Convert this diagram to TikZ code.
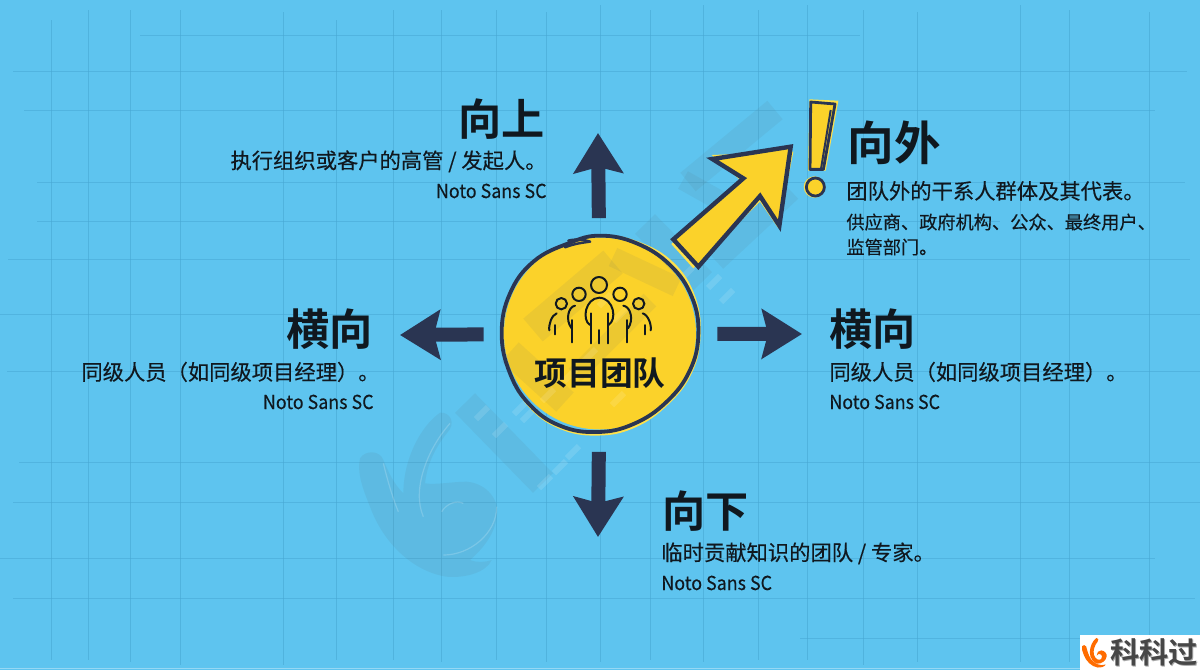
\documentclass[tikz,border=0pt]{standalone}
\usepackage{fontspec}
\usetikzlibrary{arrows.meta}
\setmainfont{Noto Sans CJK SC}[BoldFont={Noto Sans CJK SC Bold}]
\newfontfamily\bodyface{Noto Sans CJK SC}[FakeBold=0.25]
\newfontfamily\latinface{Noto Sans CJK SC}[FakeStretch=0.93,FakeBold=0.1]
\definecolor{bgblue}{HTML}{5EC4EF}
\definecolor{gridblue}{HTML}{48A8D4}
\definecolor{navy}{HTML}{2A3552}
\definecolor{ink}{HTML}{10181F}
\definecolor{sun}{HTML}{FBD22A}
\definecolor{sunedge}{HTML}{FFE14A}
\definecolor{wmark}{HTML}{5A6B70}
\newcommand{\swirlpath}{(60,175) .. controls (75,150) and (120,150) .. (130,180)
     .. controls (145,230) and (160,320) .. (215,400)
     .. controls (270,470) and (370,510) .. (455,480)
     .. controls (440,515) and (380,535) .. (320,530)
     .. controls (220,515) and (130,430) .. (90,320)
     .. controls (70,270) and (50,220) .. (60,175) -- cycle
  (300,38) .. controls (330,35) and (350,70) .. (320,100)
     .. controls (270,160) and (240,250) .. (260,320)
     .. controls (280,390) and (340,420) .. (380,390)
     .. controls (410,360) and (395,310) .. (360,305)
     .. controls (340,300) and (320,310) .. (305,330)
     .. controls (300,280) and (340,245) .. (380,245)
     .. controls (440,250) and (480,300) .. (470,350)
     .. controls (460,420) and (380,470) .. (320,465)
     .. controls (250,450) and (190,370) .. (190,280)
     .. controls (190,180) and (240,80) .. (300,38) -- cycle}
\tikzset{
  gridv/.style={gridblue,line width=0.5pt,opacity=.6},
  gridh/.style={gridblue,line width=0.5pt,opacity=.55},
  head/.style={font=\bfseries\fontsize{21.6}{21.6}\selectfont,text=ink,inner sep=0pt},
  headb/.style={font=\bfseries\fontsize{23.3}{23.3}\selectfont,text=ink,inner sep=0pt},
  bodytext/.style={font=\bodyface\fontsize{10.65}{10.65}\selectfont,text=ink,inner sep=0pt},
  smalltext/.style={font=\bodyface\fontsize{9.1}{9.1}\selectfont,text=ink,inner sep=0pt},
  fonttext/.style={font=\latinface\fontsize{9.6}{9.6}\selectfont,text=ink,inner sep=0pt},
  darrow/.style={draw=navy,line width=7pt,line join=round,-{Stealth[length=20pt,width=24.5pt,inset=3pt,fill=navy]}},
  team circle/.style={circle,fill=sun,minimum size=96pt,inner sep=0pt},
  wm/.style={wmark,opacity=.09,line cap=butt},
  wmlight/.style={white,opacity=.12,line cap=butt},
  icon/.style={draw=ink,line width=1pt,line cap=round,line join=round},
  yarrow/.style={draw=navy,line width=2.2pt,fill=sun,line join=miter},
}
\begin{document}
\begin{tikzpicture}[x=0.5pt,y=-0.5pt]
\useasboundingbox (0,0) rectangle (1200,670);
\fill[bgblue] (0,0) rectangle (1200,670);
% grid
\foreach \x/\a/\b in {51/20/660,88/10/660,130/10/662,180/10/665,283/12/665,336/20/660,393/10/660,441/10/662,496/10/660,546/12/662,600/5/662,650/10/660,703/5/662,758/10/660,807/5/660,863/10/665,917/12/662,1020/5/662,1069/10/662,1149/12/660}
  \draw[gridv] (\x,\a) -- (\x,\b);
\foreach \y/\a/\b in {35/140/860,71/13/1187,110/24/1155,182/37/1185,221/37/1000,259/8/1190,314/0/1200,371/7/1200,462/19/1200,502/13/1200,558/0/1155,598/13/1195,638/800/1200}
  \draw[gridh] (\a,\y) -- (\b,\y);
\draw[white,opacity=.35,line width=.5pt] (0,668.5) -- (1200,668.5);
% team disc
\node[team circle] (team) at (600,333.5) {};
% watermark
\begin{scope}[shift={(340,400)},x=0.1667pt,y=-0.1667pt]
  \fill[wmark,opacity=.1] (60,175) .. controls (75,150) and (120,150) .. (130,180)
     .. controls (145,215) and (160,250) .. (190,280)
     .. controls (190,180) and (240,80) .. (300,38)
     .. controls (330,35) and (350,70) .. (320,100)
     .. controls (285,145) and (262,190) .. (255,250)
     .. controls (290,255) and (335,245) .. (380,245)
     .. controls (440,250) and (480,300) .. (470,350)
     .. controls (465,400) and (430,445) .. (390,480)
     .. controls (410,488) and (435,487) .. (455,480)
     .. controls (440,515) and (380,535) .. (320,530)
     .. controls (220,515) and (130,430) .. (90,320)
     .. controls (70,270) and (50,220) .. (60,175) -- cycle;
  \draw[white,opacity=.18,line width=.6pt] (130,190) .. controls (145,250) and (160,300) .. (175,335);
  \draw[white,opacity=.18,line width=.6pt] (330,70) .. controls (260,150) and (215,270) .. (250,350);
  \draw[white,opacity=.18,line width=.6pt] (470,320) .. controls (470,400) and (390,465) .. (310,465);
  \draw[white,opacity=.18,line width=.6pt] (305,335) .. controls (320,310) and (350,300) .. (370,310);
\end{scope}
\draw[wm,line width=14pt] (465,403) -- (543,483);
\draw[wm,line width=13pt] (510,352) -- (565,402);
\draw[wm,line width=15pt] (533,330) -- (613,262);
\draw[wm,line width=10pt] (613,257) -- (677,287);
\draw[wm,line width=9pt] (650,300) -- (575,375);
\draw[wm,line width=14pt] (645,224) -- (702,282);
\draw[wm,line width=12pt] (688,182) -- (775,110);
\draw[wm,line width=10pt] (683,180) -- (740,212);
\draw[wm,line width=12pt] (715,260) -- (790,190);
\foreach \x/\y in {482/413,500/430,520/408,545/482,560/467,573/452,714/282,727/296,690/270,605/300,620/315,590/355,570/375,548/395,528/415,618/399}
  \draw[wmlight,line width=3pt] (\x-6,\y+6) -- (\x+6,\y-6);
% hand-drawn outline of disc
\begin{scope}[shift={(480,220)},x=0.1667pt,y=-0.1667pt]
  \draw[sunedge,line width=1.2pt] plot[smooth cycle,tension=.7] coordinates {(268,70) (363,48) (474,68) (578,130) (642,230) (658,345) (633,456) (563,550) (462,620) (350,643) (240,623) (150,560) (92,462) (68,340) (92,220) (162,125)};
  \draw[navy,line width=1.9pt,line join=round] plot[smooth cycle,tension=.7] coordinates {(265,70) (360,47) (470,70) (570,135) (635,230) (655,340) (630,450) (560,545) (460,612) (350,636) (240,617) (150,555) (90,460) (65,340) (90,220) (160,125)};
  \draw[navy,line width=1.3pt,line cap=round] (265,62) .. controls (290,56) and (315,60) .. (330,65);
  \draw[navy,line width=1.2pt,line cap=round] (255,82) .. controls (285,70) and (310,68) .. (330,65);
\end{scope}
% people icon
\begin{scope}[shift={(540,265)},x=0.1667pt,y=-0.1667pt]
  \draw[icon] (177,60) circle[radius=24];
  \draw[icon] (117,88) circle[radius=20];
  \draw[icon] (240,88) circle[radius=20];
  \draw[icon] (64,116) circle[radius=17];
  \draw[icon] (296,116) circle[radius=17];
  \draw[icon] (150,180) .. controls (125,165) and (135,100) .. (178,98) .. controls (222,100) and (232,165) .. (205,180);
  \draw[icon] (152,145) -- (152,235);
  \draw[icon] (205,145) -- (205,235);
  \draw[icon] (178,195) -- (178,235);
  \draw[icon] (105,122) .. controls (85,125) and (75,165) .. (95,190);
  \draw[icon] (97,165) -- (97,232);
  \draw[icon] (250,122) .. controls (272,125) and (282,165) .. (264,190);
  \draw[icon] (262,165) -- (262,232);
  \draw[icon] (50,145) .. controls (35,150) and (25,180) .. (28,196);
  \draw[icon] (45,180) -- (45,208);
  \draw[icon] (308,145) .. controls (325,150) and (335,180) .. (332,196);
  \draw[icon] (316,180) -- (316,208);
\end{scope}
\node[font=\bfseries\fontsize{16.4}{16.4}\selectfont,text=ink,inner sep=0pt] (teamlabel) at (600,373) {项目团队};
% connector ends
\coordinate (upTip) at (598,133);
\coordinate (leftTip) at (400,335);
\coordinate (rightTip) at (802,334);
\coordinate (downTip) at (598,537);
\draw[darrow,shorten <=9.5pt] (team) -- (upTip);
\draw[darrow,shorten <=10pt] (team) -- (leftTip);
\draw[darrow,shorten <=10.5pt] (team) -- (rightTip);
\draw[darrow,shorten <=11pt] (team) -- (downTip);
% yellow outward arrow
\begin{scope}[shift={(660,90)},x=0.1667pt,y=-0.1667pt]
  \fill[sunedge] (34,462) -- (100,535) -- (300,335) -- (355,415) -- (400,185) -- (155,195) -- (240,270) -- cycle;
  \draw[yarrow] (40,448) -- (115,530) -- (300,318) -- (358,407) -- (392,170) -- (157,207) -- (250,265) -- cycle;
  % exclamation mark
  \fill[sunedge] (448,28) -- (535,32) -- (497,242) -- (444,242) -- cycle;
  \draw[draw=navy,fill=sun,line width=1.4pt,line join=round] (452,36) -- (525,42) -- (490,238) -- (450,238) -- cycle;
  \draw[navy,line width=1pt] (512,60) -- (483,236);
  \fill[sunedge] (463,291) circle[radius=32];
  \draw[draw=navy,fill=sun,line width=1.4pt] (466,291) circle[radius=27];
\end{scope}
% labels
\node[head,anchor=base east] (upHead) at (545,135) {向上};
\node[bodytext,anchor=base east] (upBody) at (547,168.5) {执行组织或客户的高管 / 发起人。};
\node[fonttext,anchor=base east] (upFont) at (547,198) {Noto Sans SC};
\node[headb,anchor=base west] (outHead) at (847,160) {向外};
\node[bodytext,anchor=base west] (outBody) at (846,199) {团队外的干系人群体及其代表。};
\node[smalltext,anchor=base west] (outSubA) at (846,229) {供应商、政府机构、公众、最终用户、};
\node[smalltext,anchor=base west] (outSubB) at (846,254) {监管部门。};
\node[head,anchor=base east] (leftHead) at (373,345) {横向};
\node[bodytext,anchor=base west] (leftBody) at (81,380) {同级人员（如同级项目经理）。};
\node[fonttext,anchor=base east] (leftFont) at (374,409) {Noto Sans SC};
\node[head,anchor=base west] (rightHead) at (829,345) {横向};
\node[bodytext,anchor=base west] (rightBody) at (829,380) {同级人员（如同级项目经理）。};
\node[fonttext,anchor=base west] (rightFont) at (829,409) {Noto Sans SC};
\node[head,anchor=base west] (downHead) at (662,527) {向下};
\node[bodytext,anchor=base west] (downBody) at (661,560.5) {临时贡献知识的团队 / 专家。};
\node[fonttext,anchor=base west] (downFont) at (661,590) {Noto Sans SC};
% corner logo
\fill[white] (1080,635) rectangle (1200,670);
\begin{scope}[shift={(1078.4,635.7)},x=0.03pt,y=-0.03pt]
  \fill[orange!85!red] \swirlpath;
\end{scope}
\node[font=\bfseries\fontsize{14.6}{14.6}\selectfont,text=black!35,inner sep=0pt,anchor=west] (logoShade) at (1111,653.5) {科科过};
\node[font=\bfseries\fontsize{14.6}{14.6}\selectfont,text=black!72,inner sep=0pt,anchor=west] (logoText) at (1110,652) {科科过};
\end{tikzpicture}
\end{document}
